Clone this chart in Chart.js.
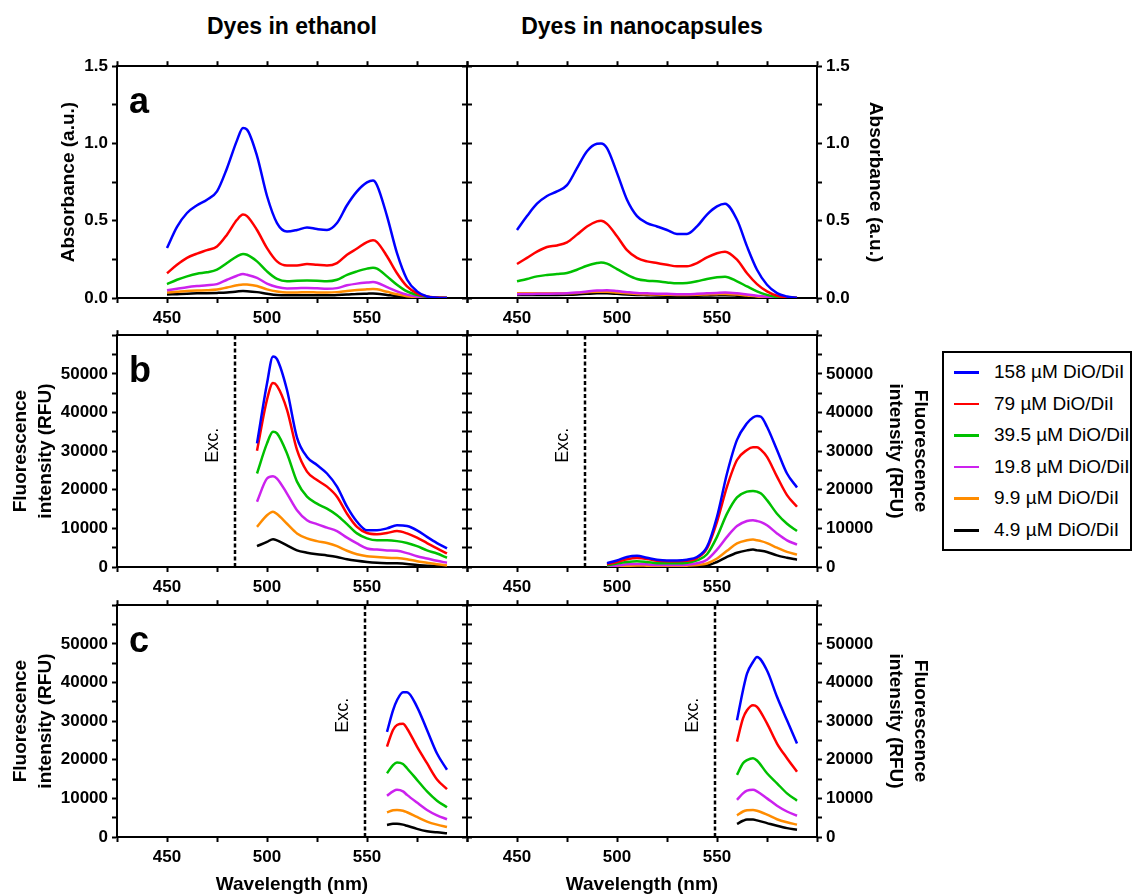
<!DOCTYPE html>
<html>
<head>
<meta charset="utf-8">
<script src="https://cdn.jsdelivr.net/npm/chart.js@4.4.1/dist/chart.umd.min.js"></script>
<style>
  body { margin: 0; background: #fff; width: 1133px; height: 895px; position: relative; overflow: hidden;
         font-family: "Liberation Sans", Arial, sans-serif; }
  canvas { position: absolute; }
  .coltitle { position: absolute; top: 15px; font-weight: bold; font-size: 23px; line-height: 23px;
              transform: translateX(-50%); white-space: nowrap; }
  #legend { position: absolute; left: 942px; top: 351px; width: 186px; height: 196px; border: 2px solid #000; }
  #legend .row { position: absolute; left: 0; height: 20px; width: 186px; }
  #legend .swatch { position: absolute; left: 10px; top: 9px; width: 25px; height: 2.5px; }
  #legend .txt { position: absolute; left: 50px; top: 0; font-size: 19px; line-height: 20px; white-space: nowrap; }
</style>
</head>
<body>
<div class="coltitle" id="t0" style="left:292px"></div>
<div class="coltitle" id="t1" style="left:642px"></div>
<div id="legend"></div>
<script>
'use strict'
// names of the six dye loadings, same order in every panel
const concentrations = ['158 µM DiO/DiI', '79 µM DiO/DiI', '39.5 µM DiO/DiI', '19.8 µM DiO/DiI', '9.9 µM DiO/DiI', '4.9 µM DiO/DiI'];
const columnTitles = ['Dyes in ethanol', 'Dyes in nanocapsules'];
const wlTicks = [450, 500, 550];
const absTicks = [0, 0.5, 1.0, 1.5];
const fluoTicks = [0, 10000, 20000, 30000, 40000, 50000];
const excB = 484; // excitation wavelength, row b
const excC = 549; // excitation wavelength, row c

// a: absorbance, ethanol
const absWlEthanol = [450, 455, 460, 465, 470, 475, 480, 485, 488, 490, 495, 500, 505, 510, 515, 520, 525, 530, 535, 540, 545, 550, 553, 555, 560, 565, 570, 575, 580, 585, 590];
const absEthanol = [
  [.323, .46, .55, .60, .636, .69, .84, 1.02, 1.10, 1.09, .92, .66, .485, .43, .44, .457, .446, .44, .485, .60, .69, .748, .76, .73, .53, .29, .12, .043, .01, .002, 0],
  [.16, .215, .26, .287, .31, .334, .41, .506, .54, .53, .44, .323, .237, .21, .21, .22, .215, .21, .226, .28, .32, .362, .373, .362, .27, .16, .075, .03, .01, .003, 0],
  [.09, .118, .14, .157, .166, .183, .226, .27, .285, .28, .237, .172, .123, .108, .112, .114, .112, .108, .118, .15, .172, .19, .196, .19, .14, .086, .043, .02, .006, .002, 0],
  [.05, .06, .07, .077, .082, .09, .118, .144, .155, .15, .13, .093, .071, .062, .063, .065, .063, .06, .064, .082, .093, .10, .103, .099, .07, .043, .022, .01, .004, .001, 0],
  [.035, .04, .045, .048, .05, .055, .068, .082, .088, .087, .078, .056, .042, .036, .036, .037, .036, .035, .038, .046, .052, .056, .058, .056, .04, .024, .012, .005, .002, .001, 0],
  [.022, .025, .028, .03, .031, .033, .036, .042, .045, .044, .038, .028, .02, .018, .018, .018, .018, .017, .019, .022, .026, .028, .029, .028, .02, .012, .006, .002, .001, 0, 0]
];

// a: absorbance, nanocapsules
const absWlNano = [450, 455, 460, 465, 470, 475, 480, 485, 490, 492, 495, 500, 505, 510, 515, 520, 525, 530, 535, 540, 545, 550, 554, 560, 565, 570, 575, 580, 585, 590];
const absNano = [
  [.44, .53, .61, .66, .69, .73, .84, .95, .998, 1.0, .97, .81, .636, .53, .485, .463, .44, .414, .414, .463, .54, .593, .61, .506, .334, .183, .086, .032, .01, 0],
  [.22, .26, .30, .33, .34, .36, .41, .463, .496, .50, .48, .40, .31, .26, .237, .226, .215, .205, .205, .226, .263, .29, .30, .248, .16, .09, .043, .015, .004, 0],
  [.108, .123, .14, .149, .155, .162, .183, .209, .226, .23, .222, .187, .151, .123, .112, .108, .101, .095, .097, .108, .123, .134, .138, .108, .075, .043, .02, .006, .002, 0],
  [.025, .026, .027, .028, .029, .031, .035, .042, .048, .049, .05, .045, .038, .032, .03, .028, .027, .025, .025, .027, .03, .033, .035, .03, .022, .015, .008, .004, .001, 0],
  [.03, .03, .03, .03, .03, .031, .033, .037, .04, .04, .04, .036, .031, .026, .024, .022, .021, .02, .02, .021, .023, .025, .026, .022, .016, .01, .006, .003, .001, 0],
  [.02, .02, .02, .02, .02, .021, .023, .027, .03, .03, .03, .027, .023, .02, .018, .016, .015, .015, .015, .015, .016, .017, .018, .015, .011, .007, .004, .002, .001, 0]
];

// b: fluorescence, excitation 484 nm, ethanol
const fluoWlB = [495, 500, 503, 505, 510, 515, 520, 525, 530, 535, 540, 545, 550, 555, 560, 565, 570, 575, 580, 585, 590];
const fluoEthanolB = [
  [32000, 47500, 54500, 53800, 45800, 33500, 28500, 26400, 24200, 20800, 15600, 11700, 9500, 9500, 10000, 10800, 10600, 9500, 7800, 6200, 4800],
  [30100, 43300, 47600, 46900, 40700, 30300, 24700, 22500, 20800, 18200, 13800, 10400, 8800, 8500, 8800, 9300, 8700, 7600, 6200, 4800, 3500],
  [24200, 32000, 35000, 34600, 29400, 22100, 18200, 16400, 15100, 13400, 11100, 8700, 7400, 6900, 6900, 6700, 6200, 5400, 4300, 3500, 2400],
  [16900, 22900, 23500, 22900, 19000, 14700, 12100, 11100, 10200, 9300, 7600, 6100, 4800, 4500, 4300, 4200, 3600, 2800, 2200, 1600, 1100],
  [10400, 13400, 14300, 13700, 11200, 8700, 7400, 6700, 6200, 5400, 4200, 3300, 2800, 2600, 2400, 2300, 2000, 1500, 1100, 700, 400],
  [5400, 6500, 7200, 6900, 5600, 4300, 3700, 3300, 3000, 2600, 2000, 1600, 1300, 1100, 1000, 950, 800, 500, 350, 200, 100]
];

// b: fluorescence, excitation 484 nm, nanocapsules
const fluoWlBNano = [495, 500, 505, 510, 515, 520, 525, 530, 535, 540, 545, 550, 555, 560, 565, 568, 570, 572, 575, 580, 585, 590];
const fluoNanoB = [
  [1000, 1700, 2600, 2900, 2400, 1900, 1700, 1700, 1900, 2600, 5200, 13000, 24200, 32900, 37200, 38700, 39100, 38900, 36300, 30300, 24200, 20600],
  [700, 1300, 2000, 2300, 2100, 1600, 1500, 1500, 1600, 2300, 4800, 11700, 20800, 27700, 30300, 31000, 31000, 30300, 28500, 23400, 18600, 15600],
  [400, 900, 1300, 1500, 1300, 1000, 950, 950, 1100, 1700, 3300, 7800, 13800, 18000, 19500, 19700, 19500, 19000, 17300, 13800, 11200, 9300],
  [250, 400, 700, 800, 700, 500, 500, 500, 600, 950, 1900, 4500, 7800, 10600, 11900, 12100, 11900, 11600, 10800, 8700, 6900, 5800],
  [150, 200, 300, 400, 350, 300, 300, 300, 350, 500, 900, 2200, 4200, 6100, 6900, 7100, 6900, 6700, 6200, 5000, 3900, 3200],
  [100, 150, 200, 250, 250, 200, 200, 200, 250, 300, 400, 1300, 2600, 3700, 4300, 4500, 4300, 4200, 3900, 3000, 2400, 1900]
];

// c: fluorescence, excitation 549 nm
const fluoWlC = [560, 563, 565, 568, 570, 575, 580, 585, 590];
const fluoEthanolC = [
  [27200, 32800, 35400, 37500, 37500, 33700, 27700, 21600, 17400],
  [23400, 27700, 29000, 29300, 28100, 23400, 19100, 14900, 12400],
  [16500, 18600, 19300, 18900, 17800, 14800, 11800, 9400, 7700],
  [10700, 11800, 12200, 11800, 10900, 8900, 7000, 5600, 4600],
  [6400, 6900, 7000, 6800, 6400, 5200, 4000, 3200, 2600],
  [3100, 3400, 3400, 3200, 2900, 2100, 1500, 1200, 1000]
];
const fluoNanoC = [
  [30200, 38000, 42300, 45300, 46600, 43100, 36300, 30200, 24200],
  [24700, 30700, 32800, 34100, 33700, 29400, 24200, 20400, 16900],
  [16100, 19100, 19900, 20400, 19800, 16500, 13900, 11300, 9400],
  [9600, 11300, 12000, 12200, 11800, 10000, 8100, 6600, 5500],
  [5600, 6600, 6900, 7000, 6800, 5800, 4600, 3800, 3200],
  [3400, 4200, 4500, 4500, 4300, 3600, 2900, 2300, 1900]
];

const lineColors = ['#0000ff', '#ff0000', '#00c000', '#cc22ee', '#ff8c00', '#000000'];

Chart.defaults.font.family = '"Liberation Sans", Arial, sans-serif';
Chart.defaults.color = '#000';

// plot frames (page pixels)
const colLeft = [117, 467];
const colRight = [467, 817];
const rowTop = [66, 335, 605];
const rowBottom = [298, 567, 837];

// draws the panel letter and the rotated "Exc." label
const panelText = {
  id: 'panelText',
  afterDraw(chart, args, opts) {
    const { ctx, chartArea, scales } = chart;
    ctx.save();
    ctx.fillStyle = '#000';
    if (opts.letter) {
      ctx.font = 'bold 36px "Liberation Sans", Arial, sans-serif';
      ctx.textAlign = 'left';
      ctx.textBaseline = 'alphabetic';
      ctx.fillText(opts.letter, chartArea.left + 12, chartArea.top + 47);
    }
    if (opts.exc) {
      let x = scales.x.getPixelForValue(opts.exc) - 21.5;
      ctx.translate(x, chartArea.top + 110);
      ctx.rotate(-Math.PI / 2);
      ctx.font = '18px "Liberation Sans", Arial, sans-serif';
      ctx.textAlign = 'center';
      ctx.textBaseline = 'middle';
      ctx.fillText('Exc.', 0, 0);
    }
    ctx.restore();
  }
};

function xLabel(v) {
  return wlTicks.includes(v) ? String(v) : '';
}
function absLabel(v) {
  return absTicks.some(t => Math.abs(t - v) < 1e-9) ? v.toFixed(1) : '';
}
function fluoLabel(v) {
  return fluoTicks.includes(v) ? String(v) : '';
}

function makePanel(p) {
  let col = p.col;
  let mL = col === 0 ? 117 : 30;
  let mR = col === 0 ? 30 : 120;
  let mT = 14;
  let mB = p.xTitle ? 64 : 36;
  let w = colRight[col] - colLeft[col] + mL + mR;
  let h = rowBottom[p.row] - rowTop[p.row] + mT + mB;

  let canvas = document.createElement('canvas');
  canvas.width = w;
  canvas.height = h;
  canvas.style.left = (colLeft[col] - mL) + 'px';
  canvas.style.top = (rowTop[p.row] - mT) + 'px';
  document.body.appendChild(canvas);

  let isAbs = p.kind === 'abs';
  let yMax = isAbs ? 1.5 : 60000;
  let yStep = isAbs ? 0.25 : 5000;

  let grid = { display: true, drawOnChartArea: false, drawTicks: true, tickLength: 5, tickWidth: 2, tickColor: '#000', color: '#000' };
  let border = { display: true, color: '#000', width: 2 };
  let tickFont = { size: 17, weight: 'bold' };
  let titleFont = { size: 19, weight: 'bold', lineHeight: '25px' };

  let titlePad;
  if (col === 0) titlePad = isAbs ? 56.5 : 8.5;
  else titlePad = isAbs ? 49.5 : 4.5;

  let datasets = p.rows.map((vals, i) => ({
    label: concentrations[i],
    data: p.wl.map((wl, j) => ({ x: wl, y: vals[j] })),
    borderColor: lineColors[i],
    borderWidth: 2.5,
    pointRadius: 0,
    cubicInterpolationMode: 'monotone',
    fill: false
  }));
  if (p.exc) {
    datasets.push({
      label: 'Exc.',
      data: [{ x: p.exc, y: 0 }, { x: p.exc, y: yMax }],
      borderColor: '#000',
      borderWidth: 2.5,
      borderDash: [4, 2.5],
      pointRadius: 0,
      fill: false
    });
  }

  return new Chart(canvas, {
    type: 'line',
    data: { datasets: datasets },
    plugins: [panelText],
    options: {
      responsive: false,
      animation: false,
      layout: { padding: 0 },
      plugins: {
        legend: { display: false },
        tooltip: { enabled: false },
        panelText: { letter: p.letter, exc: p.exc ? p.exc : null }
      },
      scales: {
        x: {
          type: 'linear', position: 'bottom', min: 425, max: 600,
          grid: grid, border: border,
          ticks: { stepSize: 25, autoSkip: false, maxRotation: 0, padding: 5, font: tickFont, color: '#000', callback: xLabel },
          title: p.xTitle ? { display: true, text: 'Wavelength (nm)', color: '#000', font: { size: 19, weight: 'bold' }, padding: { top: 0, bottom: 4.6 } } : { display: false },
          afterFit: s => { s.height = mB; }
        },
        x2: {
          type: 'linear', position: 'top', min: 425, max: 600,
          grid: grid, border: border,
          ticks: { stepSize: 25, autoSkip: false, display: false },
          afterFit: s => { s.height = mT; }
        },
        y: {
          type: 'linear', position: col === 0 ? 'left' : 'right', min: 0, max: yMax,
          grid: grid, border: border,
          ticks: { stepSize: yStep, autoSkip: false, padding: 4, font: tickFont, color: '#000', callback: isAbs ? absLabel : fluoLabel },
          title: {
            display: true,
            text: isAbs ? 'Absorbance (a.u.)' : ['Fluorescence', 'intensity (RFU)'],
            color: '#000', font: titleFont, padding: { top: titlePad, bottom: 0 }
          },
          afterFit: s => { s.width = col === 0 ? mL : mR; }
        },
        y2: {
          type: 'linear', position: col === 0 ? 'right' : 'left', min: 0, max: yMax,
          grid: grid, border: border,
          ticks: { stepSize: yStep, autoSkip: false, display: false },
          afterFit: s => { s.width = col === 0 ? mR : mL; }
        }
      }
    }
  });
}

makePanel({ col: 0, row: 0, kind: 'abs', wl: absWlEthanol, rows: absEthanol, letter: 'a' });
makePanel({ col: 0, row: 1, kind: 'fluo', wl: fluoWlB, rows: fluoEthanolB, letter: 'b', exc: excB });
makePanel({ col: 0, row: 2, kind: 'fluo', wl: fluoWlC, rows: fluoEthanolC, letter: 'c', exc: excC, xTitle: true });
makePanel({ col: 1, row: 0, kind: 'abs', wl: absWlNano, rows: absNano });
makePanel({ col: 1, row: 1, kind: 'fluo', wl: fluoWlBNano, rows: fluoNanoB, exc: excB });
makePanel({ col: 1, row: 2, kind: 'fluo', wl: fluoWlC, rows: fluoNanoC, exc: excC, xTitle: true });

document.getElementById('t0').textContent = columnTitles[0];
document.getElementById('t1').textContent = columnTitles[1];

// legend box
let legend = document.getElementById('legend');
for (let i = 0; i < concentrations.length; i++) {
  let row = document.createElement('div');
  row.className = 'row';
  row.style.top = (9 + i * 31.6) + 'px';
  let sw = document.createElement('div');
  sw.className = 'swatch';
  sw.style.background = lineColors[i];
  let txt = document.createElement('div');
  txt.className = 'txt';
  txt.textContent = concentrations[i];
  row.appendChild(sw);
  row.appendChild(txt);
  legend.appendChild(row);
}
</script>
</body>
</html>
